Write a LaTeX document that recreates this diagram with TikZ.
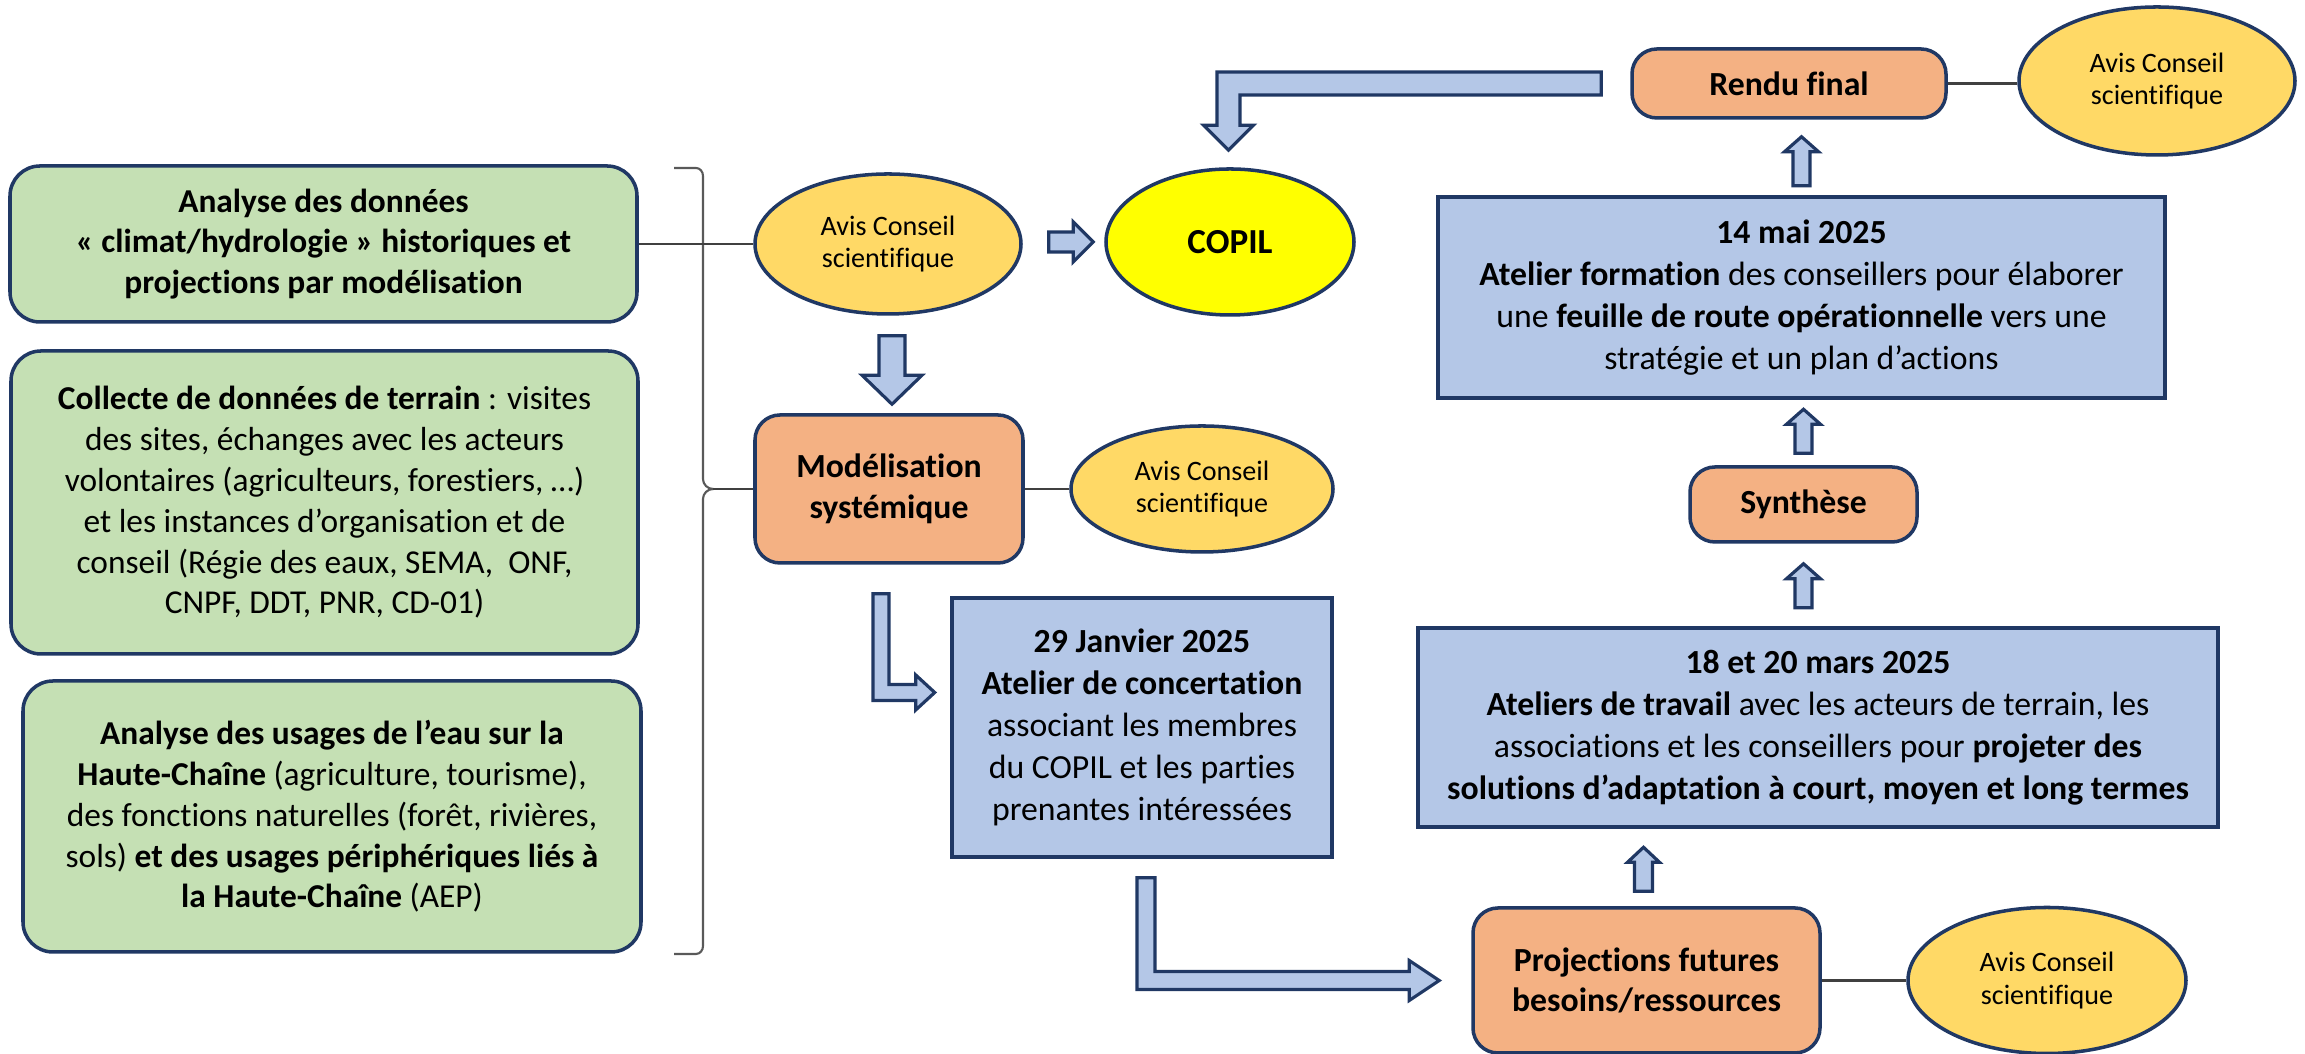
\documentclass[tikz,border=0pt]{standalone}
\usepackage{fontspec}
\setmainfont{Carlito}[Ligatures=NoCommon]
\usetikzlibrary{shapes.geometric,calc,positioning}

\definecolor{navy}{HTML}{203864}
\definecolor{vertclair}{HTML}{C5E0B4}
\definecolor{orangeclair}{HTML}{F4B183}
\definecolor{jauneavis}{HTML}{FFD966}
\definecolor{jaunecopil}{HTML}{FFFF00}
\definecolor{bleuclair}{HTML}{B4C7E7}

% block arrows drawn as outlined polygons between two points
\tikzset{
  blkv/.style args={#1/#2/#3}{to path={let \p1=(\tikztostart), \p2=(\tikztotarget), \n1={(\y2>\y1)*2-1} in
    (\x2-#1,\y1) -- (\x2-#1,\y2-\n1*#3) -- (\x2-#2,\y2-\n1*#3) -- (\x2,\y2) -- (\x2+#2,\y2-\n1*#3) -- (\x2+#1,\y2-\n1*#3) -- (\x2+#1,\y1) -- cycle}},
  blkh/.style args={#1/#2/#3}{to path={let \p1=(\tikztostart), \p2=(\tikztotarget), \n1={(\x2>\x1)*2-1} in
    (\x1,\y2-#1) -- (\x2-\n1*#3,\y2-#1) -- (\x2-\n1*#3,\y2-#2) -- (\x2,\y2) -- (\x2-\n1*#3,\y2+#2) -- (\x2-\n1*#3,\y2+#1) -- (\x1,\y2+#1) -- cycle}},
  blkdr/.style args={#1/#2/#3}{to path={let \p1=(\tikztostart), \p2=(\tikztotarget) in
    (\x1-#1,\y1) -- (\x1+#1,\y1) -- (\x1+#1,\y2+#1) -- (\x2-#3,\y2+#1) -- (\x2-#3,\y2+#2) -- (\x2,\y2) -- (\x2-#3,\y2-#2) -- (\x2-#3,\y2-#1) -- (\x1-#1,\y2-#1) -- cycle}},
  blkld/.style args={#1/#2/#3}{to path={let \p1=(\tikztostart), \p2=(\tikztotarget) in
    (\x1,\y1+#1) -- (\x2-#1,\y1+#1) -- (\x2-#1,\y2+#3) -- (\x2-#2,\y2+#3) -- (\x2,\y2) -- (\x2+#2,\y2+#3) -- (\x2+#1,\y2+#3) -- (\x2+#1,\y1-#1) -- (\x1,\y1-#1) -- cycle}}
}

\begin{document}
\begin{tikzpicture}[
    every node/.style={font=\fontsize{9.5}{11.6}\selectfont, align=center, inner sep=2pt},
    greenbox/.style={draw=navy, line width=1pt, fill=vertclair, rounded corners=0.3cm},
    orangebox/.style={draw=navy, line width=1pt, fill=orangeclair, rounded corners=0.25cm, font=\fontsize{9.6}{11.6}\selectfont\bfseries},
    bluebox/.style={draw=navy, line width=1.3pt, fill=bleuclair, font=\fontsize{9.6}{11.9}\selectfont},
    avis/.style={ellipse, draw=navy, line width=1pt, fill=jauneavis, inner sep=0pt, font=\fontsize{8}{9.2}\selectfont},
    link/.style={draw=black!75, line width=0.6pt},
    brace/.style={draw=black!65, line width=0.6pt},
    blk/.style={draw=navy, line width=0.9pt, fill=bleuclair, line join=miter}
  ]
  \useasboundingbox (0,0) rectangle (23.05,10.54);
  \fill[white] (0,0) rectangle (23.05,10.54);

  % left column
  \node[greenbox, minimum width=6.27cm, minimum height=1.56cm] (analyse) at (3.235,8.10)
    {\textbf{Analyse des données}\\\textbf{« climat/hydrologie » historiques et}\\\textbf{projections par modélisation}};
  \node[greenbox, minimum width=6.27cm, minimum height=3.03cm] (collecte) at (3.245,5.515)
    {\textbf{Collecte de données de terrain} : visites\\des sites, échanges avec les acteurs\\volontaires (agriculteurs, forestiers, …)\\et les instances d’organisation et de\\conseil (Régie des eaux, SEMA,~~ONF,\\CNPF, DDT, PNR, CD-01)};
  \node[greenbox, minimum width=6.18cm, minimum height=2.71cm] (usages) at (3.32,2.375)
    {\textbf{Analyse des usages de l’eau sur la}\\\textbf{Haute-Chaîne} (agriculture, tourisme),\\des fonctions naturelles (forêt, rivières,\\sols) \textbf{et des usages périphériques liés à}\\\textbf{la Haute-Chaîne} (AEP)};

  % middle
  \node[avis, minimum width=2.66cm, minimum height=1.40cm] (avis1) at (8.88,8.10) {Avis Conseil\\scientifique};
  \node[ellipse, draw=navy, line width=1pt, fill=jaunecopil, minimum width=2.48cm, minimum height=1.46cm, font=\fontsize{10}{12}\selectfont\bfseries] (copil) at (12.30,8.12) {COPIL};
  \node[orangebox, minimum width=2.68cm, minimum height=1.48cm] (model) at (8.89,5.65) {Modélisation\\systémique};
  \node[avis, minimum width=2.62cm, minimum height=1.26cm] (avis2) at (12.02,5.65) {Avis Conseil\\scientifique};
  \node[bluebox, minimum width=3.80cm, minimum height=2.59cm] (janvier) at (11.42,3.265)
    {\textbf{29 Janvier 2025}\\\textbf{Atelier de concertation}\\associant les membres\\du COPIL et les parties\\prenantes intéressées};

  % right column
  \node[orangebox, minimum width=3.47cm, minimum height=1.45cm] (projections) at (16.465,0.735) {Projections futures\\besoins/ressources};
  \node[avis, minimum width=2.78cm, minimum height=1.46cm] (avis4) at (20.47,0.735) {Avis Conseil\\scientifique};
  \node[bluebox, minimum width=8.00cm, minimum height=1.99cm] (mars) at (18.18,3.265)
    {\textbf{18 et 20 mars 2025}\\\textbf{Ateliers de travail} avec les acteurs de terrain, les\\associations et les conseillers pour \textbf{projeter des}\\\textbf{solutions d’adaptation à court, moyen et long termes}};
  \node[orangebox, minimum width=2.27cm, minimum height=0.75cm] (synthese) at (18.035,5.495) {Synthèse};
  \node[bluebox, minimum width=7.27cm, minimum height=2.01cm] (mai) at (18.015,7.565)
    {\textbf{14 mai 2025}\\\textbf{Atelier formation} des conseillers pour élaborer\\une \textbf{feuille de route opérationnelle} vers une\\stratégie et un plan d’actions};
  \node[orangebox, minimum width=3.14cm, minimum height=0.69cm] (rendu) at (17.89,9.705) {Rendu final};
  \node[avis, minimum width=2.76cm, minimum height=1.48cm] (avis3) at (21.57,9.73) {Avis Conseil\\scientifique};

  % brace grouping the three analyses
  \coordinate (bracetip) at ($(model.west)+(-0.40,0)$);
  \draw[brace] (6.74,8.86) -- (6.96,8.86) to[out=0,in=90] (7.03,8.78) -- (7.03,5.75)
    to[out=-90,in=180] (bracetip) to[out=180,in=90] (7.03,5.55) -- (7.03,1.08)
    to[out=-90,in=0] (6.96,1.00) -- (6.74,1.00);

  % thin links
  \draw[link] (analyse.east) -- (avis1.west);
  \draw[link] (bracetip) -- (model.west);
  \draw[link] (model.east) -- (avis2.west);
  \draw[link] (projections.east) -- (avis4.west);
  \draw[link] (rendu.east) -- (rendu.east -| avis3.west);

  % block arrows
  \draw[blk] ($(avis1.east)+(0.26,0)$) to[blkh=0.10cm/0.20cm/0.20cm] ($(copil.west)+(-0.11,0)$);
  \draw[blk] ($(avis1.south)+(0,-0.20)$) to[blkv=0.13cm/0.30cm/0.29cm] ($(model.north)+(0.03,0.09)$);
  \draw[blk] ($(model.south)+(-0.08,-0.29)$) to[blkdr=0.08cm/0.175cm/0.19cm] ($(janvier.west)+(-0.15,0.35)$);
  \draw[blk] ($(janvier.south)+(0.04,-0.185)$) to[blkdr=0.09cm/0.20cm/0.30cm] ($(projections.west)+(-0.32,0)$);
  \draw[blk] ($(projections.north)+(0,0.15)$) to[blkv=0.09cm/0.16cm/0.15cm] ($(mars.south -| projections.north)+(-0.03,-0.18)$);
  \draw[blk] ($(mars.north)+(0,0.18)$) to[blkv=0.085cm/0.17cm/0.15cm] ($(synthese.south)+(0,-0.20)$);
  \draw[blk] ($(synthese.north)+(0,0.12)$) to[blkv=0.085cm/0.17cm/0.15cm] ($(mai.south -| synthese.north)+(0,-0.09)$);
  \draw[blk] ($(mai.north)+(0,0.09)$) to[blkv=0.085cm/0.17cm/0.15cm] ($(rendu.south -| mai.north)+(0,-0.17)$);
  \draw[blk] ($(rendu.west)+(-0.29,0)$) to[blkld=0.115cm/0.25cm/0.25cm] ($(copil.north)+(-0.015,0.17)$);
\end{tikzpicture}
\end{document}
